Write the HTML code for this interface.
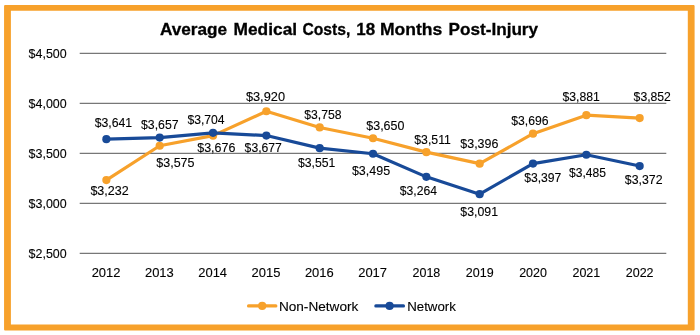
<!DOCTYPE html><html><head><meta charset="utf-8"><style>html,body{margin:0;padding:0;background:#fff;overflow:hidden}svg{display:block;will-change:transform}text{font-family:"Liberation Sans",sans-serif;fill:#000;stroke:#000;stroke-width:0.12px}text.t{stroke-width:0.3px}</style></head><body>
<svg width="700" height="335" viewBox="0 0 700 335">
<path fill-rule="evenodd" fill="#F7A12B" d="M5.06,5.07 H693.6 Q694.6,5.07 694.6,6.07 V329.6 Q694.6,330.6 693.6,330.6 H5.06 Q4.06,330.6 4.06,329.6 V6.07 Q4.06,5.07 5.06,5.07 Z M10.9,10.75 V324.5 H687.8 V10.75 Z"/>
<line x1="79.7" y1="53.4" x2="666.3" y2="53.4" stroke="#777777" stroke-width="1.2"/>
<line x1="79.7" y1="103.4" x2="666.3" y2="103.4" stroke="#777777" stroke-width="1.2"/>
<line x1="79.7" y1="153.4" x2="666.3" y2="153.4" stroke="#777777" stroke-width="1.2"/>
<line x1="79.7" y1="203.4" x2="666.3" y2="203.4" stroke="#777777" stroke-width="1.2"/>
<line x1="79.7" y1="253.4" x2="666.3" y2="253.4" stroke="#777777" stroke-width="1.2"/>
<polyline points="106.37,180.05 159.69,145.75 213.02,135.65 266.36,111.25 319.69,127.45 373.01,138.25 426.34,152.15 479.67,163.65 533.00,133.65 586.34,115.15 639.67,118.05" fill="none" stroke="#F7A12B" stroke-width="3.2" stroke-linejoin="round" stroke-linecap="round"/>
<circle cx="106.37" cy="180.05" r="4.1" fill="#F7A12B"/>
<circle cx="159.69" cy="145.75" r="4.1" fill="#F7A12B"/>
<circle cx="213.02" cy="135.65" r="4.1" fill="#F7A12B"/>
<circle cx="266.36" cy="111.25" r="4.1" fill="#F7A12B"/>
<circle cx="319.69" cy="127.45" r="4.1" fill="#F7A12B"/>
<circle cx="373.01" cy="138.25" r="4.1" fill="#F7A12B"/>
<circle cx="426.34" cy="152.15" r="4.1" fill="#F7A12B"/>
<circle cx="479.67" cy="163.65" r="4.1" fill="#F7A12B"/>
<circle cx="533.00" cy="133.65" r="4.1" fill="#F7A12B"/>
<circle cx="586.34" cy="115.15" r="4.1" fill="#F7A12B"/>
<circle cx="639.67" cy="118.05" r="4.1" fill="#F7A12B"/>
<polyline points="106.37,139.15 159.69,137.55 213.02,132.85 266.36,135.55 319.69,148.15 373.01,153.75 426.34,176.85 479.67,194.15 533.00,163.55 586.34,154.75 639.67,166.05" fill="none" stroke="#184A98" stroke-width="3.2" stroke-linejoin="round" stroke-linecap="round"/>
<circle cx="106.37" cy="139.15" r="4.1" fill="#184A98"/>
<circle cx="159.69" cy="137.55" r="4.1" fill="#184A98"/>
<circle cx="213.02" cy="132.85" r="4.1" fill="#184A98"/>
<circle cx="266.36" cy="135.55" r="4.1" fill="#184A98"/>
<circle cx="319.69" cy="148.15" r="4.1" fill="#184A98"/>
<circle cx="373.01" cy="153.75" r="4.1" fill="#184A98"/>
<circle cx="426.34" cy="176.85" r="4.1" fill="#184A98"/>
<circle cx="479.67" cy="194.15" r="4.1" fill="#184A98"/>
<circle cx="533.00" cy="163.55" r="4.1" fill="#184A98"/>
<circle cx="586.34" cy="154.75" r="4.1" fill="#184A98"/>
<circle cx="639.67" cy="166.05" r="4.1" fill="#184A98"/>
<line x1="248.5" y1="305.9" x2="275.9" y2="305.9" stroke="#F7A12B" stroke-width="3.1" stroke-linecap="round"/>
<circle cx="262.2" cy="305.9" r="4.1" fill="#F7A12B"/>
<line x1="375.8" y1="305.9" x2="403.5" y2="305.9" stroke="#184A98" stroke-width="3.1" stroke-linecap="round"/>
<circle cx="389.6" cy="305.9" r="4.1" fill="#184A98"/>
<text class="t" id="t0" x="159.90" y="34.90" font-size="17" font-weight="bold" textLength="67.30" lengthAdjust="spacingAndGlyphs">Average</text>
<text class="t" id="t1" x="233.50" y="34.90" font-size="17" font-weight="bold" textLength="63.60" lengthAdjust="spacingAndGlyphs">Medical</text>
<text class="t" id="t2" x="302.40" y="34.90" font-size="17" font-weight="bold" textLength="48.00" lengthAdjust="spacingAndGlyphs">Costs,</text>
<text class="t" id="t3" x="356.20" y="34.90" font-size="17" font-weight="bold" textLength="18.90" lengthAdjust="spacingAndGlyphs">18</text>
<text class="t" id="t4" x="379.90" y="34.90" font-size="17" font-weight="bold" textLength="62.30" lengthAdjust="spacingAndGlyphs">Months</text>
<text class="t" id="t5" x="448.50" y="34.90" font-size="17" font-weight="bold" textLength="89.60" lengthAdjust="spacingAndGlyphs">Post-Injury</text>
<text id="y0" x="28.60" y="57.70" font-size="13" font-weight="normal" textLength="38.10" lengthAdjust="spacingAndGlyphs">$4,500</text>
<text id="y1" x="28.60" y="107.70" font-size="13" font-weight="normal" textLength="38.10" lengthAdjust="spacingAndGlyphs">$4,000</text>
<text id="y2" x="28.60" y="157.70" font-size="13" font-weight="normal" textLength="38.10" lengthAdjust="spacingAndGlyphs">$3,500</text>
<text id="y3" x="28.60" y="207.70" font-size="13" font-weight="normal" textLength="38.10" lengthAdjust="spacingAndGlyphs">$3,000</text>
<text id="y4" x="28.60" y="257.70" font-size="13" font-weight="normal" textLength="38.10" lengthAdjust="spacingAndGlyphs">$2,500</text>
<text id="x0" x="91.66" y="276.80" font-size="13" font-weight="normal" textLength="28.80" lengthAdjust="spacingAndGlyphs">2012</text>
<text id="x1" x="144.97" y="276.80" font-size="13" font-weight="normal" textLength="28.80" lengthAdjust="spacingAndGlyphs">2013</text>
<text id="x2" x="198.27" y="276.80" font-size="13" font-weight="normal" textLength="28.80" lengthAdjust="spacingAndGlyphs">2014</text>
<text id="x3" x="251.59" y="276.80" font-size="13" font-weight="normal" textLength="28.80" lengthAdjust="spacingAndGlyphs">2015</text>
<text id="x4" x="304.90" y="276.80" font-size="13" font-weight="normal" textLength="28.80" lengthAdjust="spacingAndGlyphs">2016</text>
<text id="x5" x="358.20" y="276.80" font-size="13" font-weight="normal" textLength="28.80" lengthAdjust="spacingAndGlyphs">2017</text>
<text id="x6" x="412.51" y="276.80" font-size="13" font-weight="normal" textLength="27.80" lengthAdjust="spacingAndGlyphs">2018</text>
<text id="x7" x="465.82" y="276.80" font-size="13" font-weight="normal" textLength="27.80" lengthAdjust="spacingAndGlyphs">2019</text>
<text id="x8" x="519.13" y="276.80" font-size="13" font-weight="normal" textLength="27.80" lengthAdjust="spacingAndGlyphs">2020</text>
<text id="x9" x="572.44" y="276.80" font-size="13" font-weight="normal" textLength="27.80" lengthAdjust="spacingAndGlyphs">2021</text>
<text id="x10" x="625.76" y="276.80" font-size="13" font-weight="normal" textLength="27.80" lengthAdjust="spacingAndGlyphs">2022</text>
<text id="b0" x="94.70" y="127.10" font-size="13" font-weight="normal" textLength="37.50" lengthAdjust="spacingAndGlyphs">$3,641</text>
<text id="b1" x="141.00" y="129.20" font-size="13" font-weight="normal" textLength="37.60" lengthAdjust="spacingAndGlyphs">$3,657</text>
<text id="b2" x="187.40" y="124.10" font-size="13" font-weight="normal" textLength="37.20" lengthAdjust="spacingAndGlyphs">$3,704</text>
<text id="b3" x="244.60" y="151.50" font-size="13" font-weight="normal" textLength="37.30" lengthAdjust="spacingAndGlyphs">$3,677</text>
<text id="b4" x="297.90" y="167.10" font-size="13" font-weight="normal" textLength="37.40" lengthAdjust="spacingAndGlyphs">$3,551</text>
<text id="b5" x="351.90" y="174.60" font-size="13" font-weight="normal" textLength="38.20" lengthAdjust="spacingAndGlyphs">$3,495</text>
<text id="b6" x="399.80" y="194.50" font-size="13" font-weight="normal" textLength="37.20" lengthAdjust="spacingAndGlyphs">$3,264</text>
<text id="b7" x="460.30" y="216.30" font-size="13" font-weight="normal" textLength="37.70" lengthAdjust="spacingAndGlyphs">$3,091</text>
<text id="b8" x="524.20" y="182.30" font-size="13" font-weight="normal" textLength="37.20" lengthAdjust="spacingAndGlyphs">$3,397</text>
<text id="b9" x="569.00" y="176.50" font-size="13" font-weight="normal" textLength="36.90" lengthAdjust="spacingAndGlyphs">$3,485</text>
<text id="b10" x="624.80" y="183.50" font-size="13" font-weight="normal" textLength="37.70" lengthAdjust="spacingAndGlyphs">$3,372</text>
<text id="o0" x="90.40" y="194.60" font-size="13" font-weight="normal" textLength="38.30" lengthAdjust="spacingAndGlyphs">$3,232</text>
<text id="o1" x="156.30" y="167.20" font-size="13" font-weight="normal" textLength="38.20" lengthAdjust="spacingAndGlyphs">$3,575</text>
<text id="o2" x="197.20" y="152.10" font-size="13" font-weight="normal" textLength="38.20" lengthAdjust="spacingAndGlyphs">$3,676</text>
<text id="o3" x="245.90" y="100.60" font-size="13" font-weight="normal" textLength="39.10" lengthAdjust="spacingAndGlyphs">$3,920</text>
<text id="o4" x="304.20" y="119.40" font-size="13" font-weight="normal" textLength="37.30" lengthAdjust="spacingAndGlyphs">$3,758</text>
<text id="o5" x="366.30" y="130.40" font-size="13" font-weight="normal" textLength="38.10" lengthAdjust="spacingAndGlyphs">$3,650</text>
<text id="o6" x="414.30" y="144.40" font-size="13" font-weight="normal" textLength="36.60" lengthAdjust="spacingAndGlyphs">$3,511</text>
<text id="o7" x="460.30" y="148.40" font-size="13" font-weight="normal" textLength="38.10" lengthAdjust="spacingAndGlyphs">$3,396</text>
<text id="o8" x="511.20" y="124.50" font-size="13" font-weight="normal" textLength="37.30" lengthAdjust="spacingAndGlyphs">$3,696</text>
<text id="o9" x="562.40" y="100.60" font-size="13" font-weight="normal" textLength="37.40" lengthAdjust="spacingAndGlyphs">$3,881</text>
<text id="o10" x="633.60" y="100.60" font-size="13" font-weight="normal" textLength="37.30" lengthAdjust="spacingAndGlyphs">$3,852</text>
<text id="leg1" x="278.90" y="310.90" font-size="13" font-weight="normal" textLength="79.40" lengthAdjust="spacingAndGlyphs">Non-Network</text>
<text id="leg2" x="407.20" y="310.90" font-size="13" font-weight="normal" textLength="48.70" lengthAdjust="spacingAndGlyphs">Network</text>
</svg></body></html>
